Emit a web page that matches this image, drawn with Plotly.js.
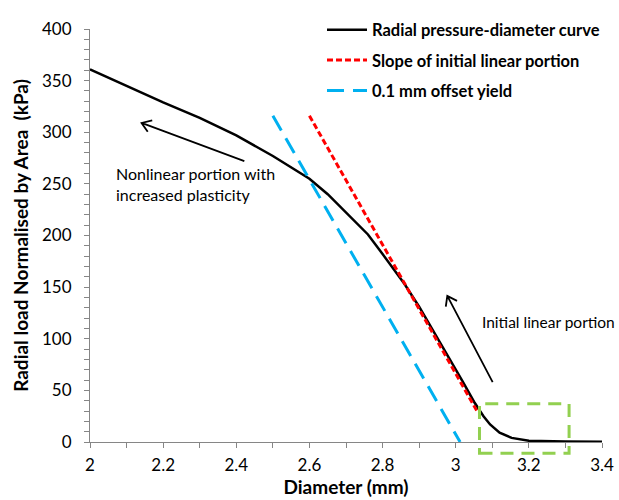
<!DOCTYPE html>
<html>
<head>
<meta charset="utf-8">
<script src="https://cdn.plot.ly/plotly-3.0.1.min.js"></script>
<style>html,body{margin:0;padding:0;background:#fff;}#chart{width:619px;height:500px;}</style>
</head>
<body>
<div id="chart"></div>
<script>
// Radial pressure-diameter curve
const diameter = [2.0, 2.1, 2.2, 2.3, 2.4, 2.5, 2.6, 2.65, 2.7, 2.76, 2.8, 2.86, 2.9, 2.93, 2.97, 3.02, 3.05, 3.076, 3.094, 3.12, 3.153, 3.18, 3.2, 3.3, 3.4];
const load     = [361, 345, 329, 314, 297, 277, 255, 240, 222, 201, 182, 153, 131, 113, 88, 58, 39, 25, 17, 9, 4, 2, 1.2, 0.6, 0.3];
// Slope of initial linear portion
const slopeX = [2.6, 3.058];
const slopeY = [316, 30];
// 0.1 mm offset yield
const offsetX = [2.5, 3.012];
const offsetY = [316, 0];
// Labels
const seriesNames = ["Radial pressure-diameter curve", "Slope of initial linear portion", "0.1 mm offset yield"];
const xTitle = "Diameter (mm)";
const yTitle = "Radial load Normalised by Area\u00a0 (kPa)";
const note1 = "Nonlinear portion with<br>increased plasticity";
const note2 = "Initial linear portion";
// Highlight box (data units)
const boxX = [3.065, 3.31];
const boxY = [-11, 37];
// Arrows: [tailX, tailY, headX, headY] in data units
const arrow1 = [2.422, 272, 2.141, 309];
const arrow2 = [3.101, 58, 2.977, 141.5];

const XR = [2, 3.4], YR = [0, 400];
const M = {l: 90, r: 17, t: 18, b: 58};
const W = 619, H = 500;
const PW = W - M.l - M.r, PH = H - M.t - M.b;
function toPx(x, y) { return [M.l + (x - XR[0]) / (XR[1] - XR[0]) * PW, M.t + (YR[1] - y) / (YR[1] - YR[0]) * PH]; }
function fromPx(px, py) { return [XR[0] + (px - M.l) / PW * (XR[1] - XR[0]), YR[1] - (py - M.t) / PH * (YR[1] - YR[0])]; }
function arrowPath(a) {
  const t = toPx(a[0], a[1]), h = toPx(a[2], a[3]);
  const dx = h[0] - t[0], dy = h[1] - t[1], L = Math.hypot(dx, dy);
  const ux = dx / L, uy = dy / L, len = 11, ang = 35 * Math.PI / 180;
  const c = Math.cos(ang), s = Math.sin(ang);
  const w1 = [h[0] - len * (ux * c - uy * s), h[1] - len * (uy * c + ux * s)];
  const w2 = [h[0] - len * (ux * c + uy * s), h[1] - len * (uy * c - ux * s)];
  const d1 = fromPx(w1[0], w1[1]), d2 = fromPx(w2[0], w2[1]);
  return `M${a[0]},${a[1]} L${a[2]},${a[3]} M${d1[0]},${d1[1]} L${a[2]},${a[3]} L${d2[0]},${d2[1]}`;
}
function px2paperX(x) { return (x - XR[0]) / (XR[1] - XR[0]); }
function px2paperY(y) { return (y - YR[0]) / (YR[1] - YR[0]); }

const FONT = "Lato, 'Open Sans', sans-serif";
const axisColor = "#868686";

const traces = [
  {x: diameter, y: load, mode: "lines", name: "<b>" + seriesNames[0] + "</b>", legendgroup: "a",
   line: {color: "#000000", width: 2.5}},
  {x: slopeX, y: slopeY, mode: "lines", name: "<b>" + seriesNames[1] + "</b>", legendgroup: "b",
   line: {color: "#FF0000", width: 3, dash: "6px,3px"}},
  {x: offsetX, y: offsetY, mode: "lines", name: "<b>" + seriesNames[2] + "</b>", legendgroup: "c",
   line: {color: "#00B0F0", width: 3, dash: "17px,9px"}}
];

const layout = {
  width: W, height: H,
  margin: M,
  paper_bgcolor: "#ffffff", plot_bgcolor: "#ffffff",
  font: {family: FONT, color: "#000000", size: 16},
  showlegend: true,
  legend: {x: px2paperX(fromPx(322, 0)[0]), y: 1 + 17 / PH, xanchor: "left", yanchor: "top",
           bgcolor: "rgba(0,0,0,0)", font: {family: FONT, size: 16.5, color: "#000"},
           tracegroupgap: 6, traceorder: "grouped", itemwidth: 40},
  xaxis: {range: XR, dtick: 0.2, tick0: 2, showgrid: false, zeroline: false,
          showline: true, linecolor: axisColor, linewidth: 1,
          ticks: "outside", ticklen: 5, tickcolor: axisColor, tickwidth: 1,
          minor: {dtick: 0.1, ticks: "outside", ticklen: 5, tickcolor: axisColor, showgrid: false},
          tickfont: {size: 17, color: "#000"}, ticklabelstandoff: 3,
          title: {text: "<b>" + xTitle + "</b>", font: {size: 19}, standoff: 6}},
  yaxis: {range: YR, dtick: 50, tick0: 0, showgrid: false, zeroline: false,
          showline: true, linecolor: axisColor, linewidth: 1,
          ticks: "outside", ticklen: 5, tickcolor: axisColor, tickwidth: 1,
          minor: {dtick: 10, ticks: "outside", ticklen: 5, tickcolor: axisColor, showgrid: false},
          tickfont: {size: 17, color: "#000"}, ticklabelstandoff: 9,
          title: {text: "<b>" + yTitle + "</b>", font: {size: 19}, standoff: 8}},
  shapes: [
    {type: "rect", xref: "paper", yref: "paper",
     x0: px2paperX(boxX[0]), x1: px2paperX(boxX[1]), y0: px2paperY(boxY[0]), y1: px2paperY(boxY[1]),
     line: {color: "#92D050", width: 3, dash: "13px,8px"}, fillcolor: "rgba(0,0,0,0)"},
    {type: "path", xref: "x", yref: "y", path: arrowPath(arrow1), line: {color: "#000", width: 1.8}},
    {type: "path", xref: "x", yref: "y", path: arrowPath(arrow2), line: {color: "#000", width: 1.8}}
  ],
  annotations: [
    {x: 2.066, y: 250, xref: "x", yref: "y", text: note1, showarrow: false,
     xanchor: "left", yanchor: "middle", align: "left", font: {size: 16, color: "#000"}},
    {x: 3.0665, y: 116.4, xref: "x", yref: "y", text: note2, showarrow: false,
     xanchor: "left", yanchor: "middle", align: "left", font: {size: 15.5, color: "#000"}}
  ]
};

Plotly.newPlot("chart", traces, layout, {staticPlot: true, displayModeBar: false});
</script>
</body>
</html>
